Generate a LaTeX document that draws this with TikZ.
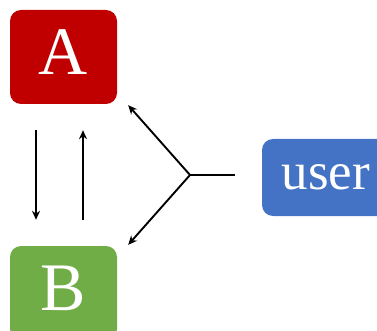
\documentclass[tikz,border=0pt]{standalone}
\usepackage{fontspec}
\setmainfont{Liberation Serif}
\usetikzlibrary{arrows.meta}
\definecolor{boxred}{HTML}{C00000}
\definecolor{boxgreen}{HTML}{70AD47}
\definecolor{boxblue}{HTML}{4472C4}

\begin{document}
\begin{tikzpicture}[x=1pt, y=-1pt,
every node/.style={shape=rectangle, rounded corners=11pt, text=white, inner sep=0pt},
block/.style={minimum width=107pt, minimum height=94pt, font=\fontsize{68}{68}\selectfont, text depth=9pt},
conn/.style={line width=1.9pt, -{Stealth[length=9pt,width=8pt]}}]
\useasboundingbox (0,0) rectangle (377,331);
\node (A)[block, fill=boxred] at (63.5,57) {A};
\node (B)[block, fill=boxgreen] at (63.5,293) {B};
\node (user)[fill=boxblue, minimum width=128pt, minimum height=77pt, font=\fontsize{53}{53}\selectfont] at (326,177.5) {user};
\coordinate (fork) at (190,175);
% A <-> B
\draw[conn, shorten <=26pt, shorten >=26pt] ([xshift=-27.5pt]A.south) -- ([xshift=-27.5pt]B.north);
\draw[conn, shorten <=26pt, shorten >=26pt] ([xshift=19.5pt]B.north) -- ([xshift=19.5pt]A.south);
% user fans out to both
\draw[line width=1.9pt, shorten >=27pt] (fork) -- (fork -| user.west);
\draw[conn] (fork) -- ([shift={(11,1)}]A.south east);
\draw[conn] (fork) -- ([shift={(11,-1)}]B.north east);
\end{tikzpicture}
\end{document}
